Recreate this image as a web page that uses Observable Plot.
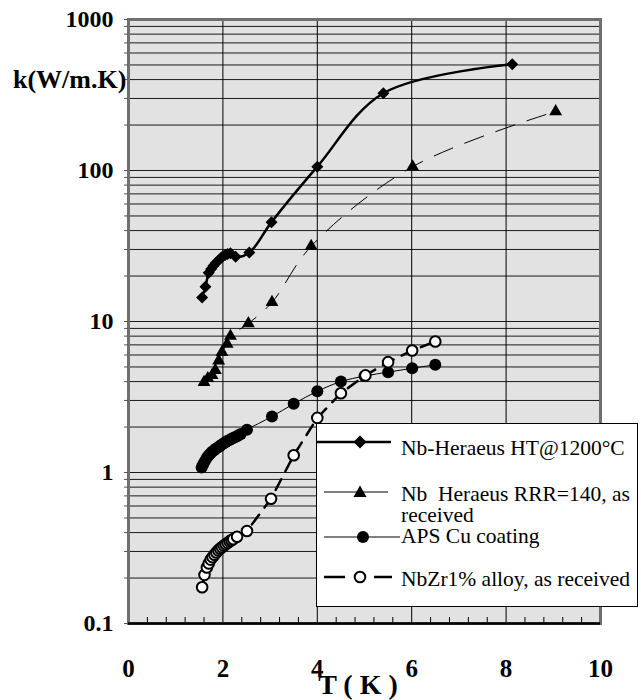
<!DOCTYPE html>
<html><head><meta charset="utf-8">
<script src="https://cdn.jsdelivr.net/npm/d3@7"></script>
<script src="https://cdn.jsdelivr.net/npm/@observablehq/plot@0.6"></script>
<style>
body{margin:0;background:#fff;}
#wrap{position:relative;width:641px;height:700px;overflow:hidden;}
#wrap svg{position:absolute;left:0;top:0;}
#wrap svg, #wrap svg text{font-family:"Liberation Serif","Times New Roman",serif !important;}
</style></head><body><div id="wrap"></div>
<script>
// ---- data ----
const seriesNames = ["Nb-Heraeus HT@1200°C", "Nb  Heraeus RRR=140, as", "APS Cu coating", "NbZr1% alloy, as received"];

const htT = [1.56, 1.63, 1.70, 1.75, 1.80, 1.85, 1.90, 1.95, 2.00, 2.05, 2.10, 2.16, 2.27, 2.56, 3.03, 4.00, 5.40, 8.13];
const htK = [14.4, 17.0, 21.0, 22.3, 23.4, 24.4, 25.3, 26.2, 27.0, 27.6, 28.0, 28.3, 26.8, 28.6, 45.5, 106, 325, 505];

const rrrT = [1.60, 1.68, 1.77, 1.84, 1.91, 1.98, 2.09, 2.16, 2.54, 3.04, 3.87, 6.02, 9.05];
const rrrK = [3.96, 4.2, 4.4, 4.75, 5.5, 6.25, 7.1, 8.0, 9.7, 13.4, 31.5, 106, 246];

const cuT = [1.55, 1.58, 1.62, 1.66, 1.70, 1.74, 1.78, 1.82, 1.86, 1.90, 1.94, 1.98, 2.02, 2.06, 2.10, 2.14, 2.18, 2.22, 2.26, 2.30, 2.34, 2.38, 2.51, 3.04, 3.50, 4.00, 4.50, 5.00, 5.50, 6.01, 6.50];
const cuK = [1.08, 1.13, 1.19, 1.25, 1.30, 1.34, 1.38, 1.41, 1.44, 1.47, 1.50, 1.53, 1.56, 1.59, 1.62, 1.64, 1.67, 1.69, 1.72, 1.74, 1.77, 1.80, 1.92, 2.35, 2.85, 3.45, 4.0, 4.35, 4.62, 4.9, 5.17];

const zrT = [1.56, 1.61, 1.66, 1.70, 1.74, 1.78, 1.82, 1.86, 1.90, 1.94, 1.98, 2.02, 2.06, 2.10, 2.14, 2.18, 2.22, 2.30, 2.51, 3.02, 3.50, 4.00, 4.50, 5.02, 5.50, 6.01, 6.50];
const zrK = [0.174, 0.21, 0.235, 0.25, 0.265, 0.275, 0.285, 0.295, 0.305, 0.313, 0.32, 0.328, 0.335, 0.342, 0.35, 0.356, 0.362, 0.375, 0.41, 0.67, 1.30, 2.30, 3.35, 4.4, 5.38, 6.43, 7.37];

const xTicks = [0, 2, 4, 6, 8, 10];
const xTickLabels = ["0", "2", "4", "6", "8", "10"];
const xMinor = [0.4, 0.8, 1.2, 1.6, 2.4, 2.8, 3.2, 3.6, 4.4, 4.8, 5.2, 5.6, 6.4, 6.8, 7.2, 7.6, 8.4, 8.8, 9.2, 9.6];
const yTicks = [0.1, 1, 10, 100, 1000];
const yTickLabels = ["0.1", "1", "10", "100", "1000"];
const yMinor = [];
for (const dec of [0.1, 1, 10, 100]) for (let m = 1; m < 10; m++) yMinor.push(+(m * dec).toPrecision(3));
yMinor.push(1000);

const toRows = (T, K) => T.map((t, i) => ({T: t, k: K[i]}));
const ht = toRows(htT, htK), rrr = toRows(rrrT, rrrK), cu = toRows(cuT, cuK), zr = toRows(zrT, zrK);

const FONT = "'Liberation Serif', 'Times New Roman', serif";
const plotH = 700 - 19 - 77;

const chart = Plot.plot({
  width: 641, height: 700,
  marginLeft: 128, marginRight: 41, marginTop: 19, marginBottom: 77,
  style: {fontFamily: FONT, background: "transparent", overflow: "visible", color: "#000"},
  x: {domain: [0, 10]},
  y: {type: "log", domain: [0.1, 1000]},
  marks: [
    Plot.frame({fill: "#e2e2e2", stroke: "none"}),
    Plot.ruleY(yMinor.filter(v => v > 0.1 && v < 1000), {stroke: "#1a1a1a", strokeWidth: 1}),
    Plot.ruleX(xTicks.filter(v => v > 0 && v < 10), {stroke: "#000", strokeWidth: 1}),
    Plot.tickX(xMinor, {x: d => d, insetTop: plotH - 6, stroke: "#000", strokeWidth: 1}),
    Plot.frame({stroke: "#6f6f6f", strokeWidth: 3}),
    Plot.ruleY([0.1], {stroke: "#000", strokeWidth: 2.5}),
    Plot.axisY(yMinor, {tickSize: 4, tickFormat: () => "", stroke: "#555", label: null}),
    Plot.axisY(yTicks, {tickSize: 0, tickPadding: 15, tickFormat: d => yTickLabels[yTicks.indexOf(d)], fontSize: 24, fontWeight: "bold", fontFamily: FONT, fill: "#000", label: null}),
    Plot.axisX(xTicks, {tickSize: 0, tickPadding: 36, tickFormat: d => xTickLabels[xTicks.indexOf(d)], fontSize: 25, fontWeight: "bold", fontFamily: FONT, fill: "#000", label: null}),
    // lines
    Plot.line(rrr, {x: "T", y: "k", curve: "catmull-rom", stroke: "#000", strokeWidth: 1, strokeDasharray: "20,13"}),
    Plot.line(cu, {x: "T", y: "k", curve: "catmull-rom", stroke: "#000", strokeWidth: 1}),
    Plot.line(zr, {x: "T", y: "k", curve: "linear", stroke: "#000", strokeWidth: 2.5, strokeDasharray: "12,9"}),
    Plot.line(ht, {x: "T", y: "k", curve: "catmull-rom", stroke: "#000", strokeWidth: 2.5}),
    // markers
    Plot.dot(rrr, {x: "T", y: "k", symbol: "triangle", r: 4.8, fill: "#000", stroke: "none"}),
    Plot.dot(ht, {x: "T", y: "k", symbol: "diamond2", r: 5.4, fill: "#000", stroke: "none"}),
    Plot.dot(cu, {x: "T", y: "k", r: 6, fill: "#000", stroke: "none"}),
    Plot.dot(zr, {x: "T", y: "k", r: 5.3, fill: "#fff", stroke: "#000", strokeWidth: 2})
  ]
});
document.getElementById("wrap").appendChild(chart);

// ---- titles and legend overlay ----
const ov = d3.select("#wrap").append("svg").attr("width", 641).attr("height", 700);
const tx = (sel) => sel.attr("font-family", "Liberation Serif");
tx(ov.append("text")).attr("x", 13).attr("y", 88).attr("font-size", 26).attr("font-weight", "bold").text("k(W/m.K)");
tx(ov.append("text")).attr("x", 358).attr("y", 694).attr("text-anchor", "middle").attr("font-size", 28).attr("font-weight", "bold").text("T ( K )");

const lg = ov.append("g").attr("transform", "translate(316,423)");
lg.append("rect").attr("x", 0.5).attr("y", 0.5).attr("width", 321).attr("height", 183).attr("fill", "#fff").attr("stroke", "#000");
// row 1
lg.append("line").attr("x1", 0).attr("x2", 75).attr("y1", 19).attr("y2", 19).attr("stroke", "#000").attr("stroke-width", 2.5);
lg.append("path").attr("d", "M44,12.5L50.5,19L44,25.5L37.5,19Z").attr("fill", "#000");
// row 2
lg.append("line").attr("x1", 8).attr("x2", 72).attr("y1", 69).attr("y2", 69).attr("stroke", "#000").attr("stroke-width", 1);
lg.append("path").attr("d", "M44,62.5L50.5,74L37.5,74Z").attr("fill", "#000");
// row 3
lg.append("line").attr("x1", 8).attr("x2", 84).attr("y1", 114).attr("y2", 114).attr("stroke", "#000").attr("stroke-width", 1);
lg.append("circle").attr("cx", 47).attr("cy", 114).attr("r", 6).attr("fill", "#000");
// row 4
lg.append("line").attr("x1", 8).attr("x2", 29).attr("y1", 154).attr("y2", 154).attr("stroke", "#000").attr("stroke-width", 2.5);
lg.append("line").attr("x1", 58).attr("x2", 76).attr("y1", 154).attr("y2", 154).attr("stroke", "#000").attr("stroke-width", 2.5);
lg.append("circle").attr("cx", 44).attr("cy", 154).attr("r", 5.3).attr("fill", "#fff").attr("stroke", "#000").attr("stroke-width", 2);

const lt = (y, s) => tx(lg.append("text")).attr("x", 85).attr("y", y).attr("font-size", 21.5).style("white-space", "pre").text(s);
lt(32, seriesNames[0]);
lt(78, seriesNames[1]);
lt(99, "received");
lt(120, seriesNames[2]);
lt(163, seriesNames[3]);
</script>
</body></html>
